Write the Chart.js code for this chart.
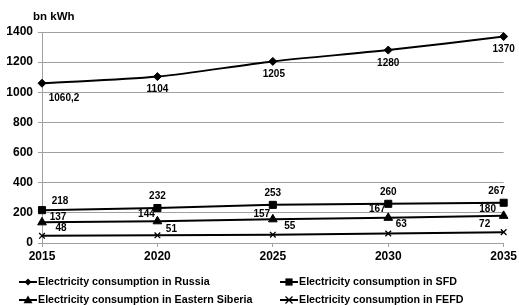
<!DOCTYPE html>
<html>
<head>
<meta charset="utf-8">
<script src="https://cdn.jsdelivr.net/npm/chart.js@4.4.1/dist/chart.umd.min.js"></script>
<style>
  html, body { margin: 0; padding: 0; background: #fff; }
  #wrap { width: 519px; height: 305px; position: relative; }
</style>
</head>
<body>
<div id="wrap"><canvas id="chart" width="519" height="305"></canvas></div>
<script>
/* ===================== DATA ===================== */
const years = ['2015', '2020', '2025', '2030', '2035'];
const russia = [1060.2, 1104, 1205, 1280, 1370];
const sfd = [218, 232, 253, 260, 267];
const easternSiberia = [137, 144, 157, 167, 180];
const fefd = [48, 51, 55, 63, 72];
const yTicks = [0, 200, 400, 600, 800, 1000, 1200, 1400];
const seriesNames = [
  'Electricity consumption in Russia',
  'Electricity consumption in SFD',
  'Electricity consumption in Eastern Siberia',
  'Electricity consumption in FEFD'
];

/* label offsets (px) relative to each point */
const labelOffsets = [
  [[22, 15], [0, 13], [1, 13], [0, 13], [0, 13]],
  [[18, -9], [0, -12], [0, -12], [0, -12], [-7, -12]],
  [[16, -5], [-11, -7], [-11, -5], [-11, -9], [-16, -7]],
  [[19, -8], [14, -6], [17, -8], [13, -9], [-19, -8]]
];
const markers = ['rectRot', 'rect', 'triangle', 'crossRot'];
const markerSizes = [4, 5, 5, 4];

function fmt(v) {
  return String(v).replace('.', ',');
}

function drawMarker(ctx, style, x, y, r) {
  ctx.save();
  ctx.fillStyle = '#000';
  ctx.strokeStyle = '#000';
  ctx.lineWidth = 1.3;
  ctx.beginPath();
  if (style === 'rectRot') {
    ctx.moveTo(x, y - r); ctx.lineTo(x + r, y); ctx.lineTo(x, y + r); ctx.lineTo(x - r, y);
    ctx.closePath(); ctx.fill();
  } else if (style === 'rect') {
    ctx.rect(x - r * 0.8, y - r * 0.8, r * 1.6, r * 1.6); ctx.fill();
  } else if (style === 'triangle') {
    ctx.moveTo(x, y - r); ctx.lineTo(x + r, y + r * 0.7); ctx.lineTo(x - r, y + r * 0.7);
    ctx.closePath(); ctx.fill();
  } else {
    ctx.moveTo(x - r, y - r); ctx.lineTo(x + r, y + r);
    ctx.moveTo(x + r, y - r); ctx.lineTo(x - r, y + r); ctx.stroke();
  }
  ctx.restore();
}

/* ===================== PLUGIN: labels, unit, legend ===================== */
const extras = {
  id: 'extras',
  afterDatasetsDraw(chart) {
    const ctx = chart.ctx;
    ctx.save();
    ctx.fillStyle = '#000';
    ctx.font = 'bold 10px Arial, "Liberation Sans", sans-serif';
    ctx.textAlign = 'center';
    ctx.textBaseline = 'middle';
    chart.data.datasets.forEach((ds, i) => {
      const meta = chart.getDatasetMeta(i);
      meta.data.forEach((pt, j) => {
        const off = labelOffsets[i][j];
        ctx.fillText(fmt(ds.data[j]), pt.x + off[0], pt.y + off[1]);
      });
    });

    // unit
    ctx.font = 'bold 11.5px Arial, "Liberation Sans", sans-serif';
    ctx.textAlign = 'left';
    ctx.fillText('bn kWh', 33, 17);

    // legend
    const cols = [19, 280];
    const rows = [282, 300];
    ctx.font = 'bold 10.7px Arial, "Liberation Sans", sans-serif';
    seriesNames.forEach((name, i) => {
      const x = cols[i % 2];
      const y = rows[Math.floor(i / 2)];
      ctx.strokeStyle = '#000';
      ctx.lineWidth = 2;
      ctx.beginPath();
      ctx.moveTo(x, y);
      ctx.lineTo(x + 18, y);
      ctx.stroke();
      drawMarker(ctx, markers[i], x + 9, y, markerSizes[i] - 0.5);
      ctx.fillStyle = '#000';
      ctx.fillText(name, x + 19, y);
    });
    ctx.restore();
  }
};

/* ===================== CHART ===================== */
document.addEventListener('DOMContentLoaded', () => {
  const ctx = document.getElementById('chart');
  const sets = [russia, sfd, easternSiberia, fefd];
  new Chart(ctx.getContext('2d'), {
    type: 'line',
    data: {
      labels: years,
      datasets: sets.map((d, i) => ({
        label: seriesNames[i],
        data: d,
        borderColor: '#000',
        backgroundColor: '#000',
        borderWidth: 2,
        pointStyle: markers[i],
        pointRadius: markerSizes[i],
        pointBorderWidth: i === 3 ? 1.3 : 1,
        pointBorderColor: '#000',
        pointBackgroundColor: '#000',
        tension: i === 0 ? 0.3 : 0,
        fill: false
      }))
    },
    options: {
      responsive: false,
      animation: false,
      layout: { padding: { left: 0, right: 12, top: 32, bottom: 0 } },
      plugins: {
        legend: { display: false },
        tooltip: { enabled: false }
      },
      scales: {
        x: {
          offset: false,
          grid: { drawOnChartArea: false, drawTicks: true, tickLength: 4, color: '#a0a0a0' },
          border: { color: '#a0a0a0', width: 1 },
          ticks: {
            color: '#000',
            padding: 2,
            maxRotation: 0,
            font: { family: 'Arial, "Liberation Sans", sans-serif', size: 12, weight: 'bold' }
          },
          afterFit(scale) { scale.height = 62; }
        },
        y: {
          min: yTicks[0],
          max: yTicks[yTicks.length - 1],
          afterBuildTicks(scale) { scale.ticks = yTicks.map(v => ({ value: v })); },
          grid: { color: '#a0a0a0', tickLength: 4 },
          border: { color: '#a0a0a0', width: 1 },
          ticks: {
            color: '#000',
            padding: 5,
            callback: v => String(v),
            font: { family: 'Arial, "Liberation Sans", sans-serif', size: 12, weight: 'bold' }
          },
          afterFit(scale) { scale.width = 42; }
        }
      }
    },
    plugins: [extras]
  });
});
</script>
</body>
</html>
